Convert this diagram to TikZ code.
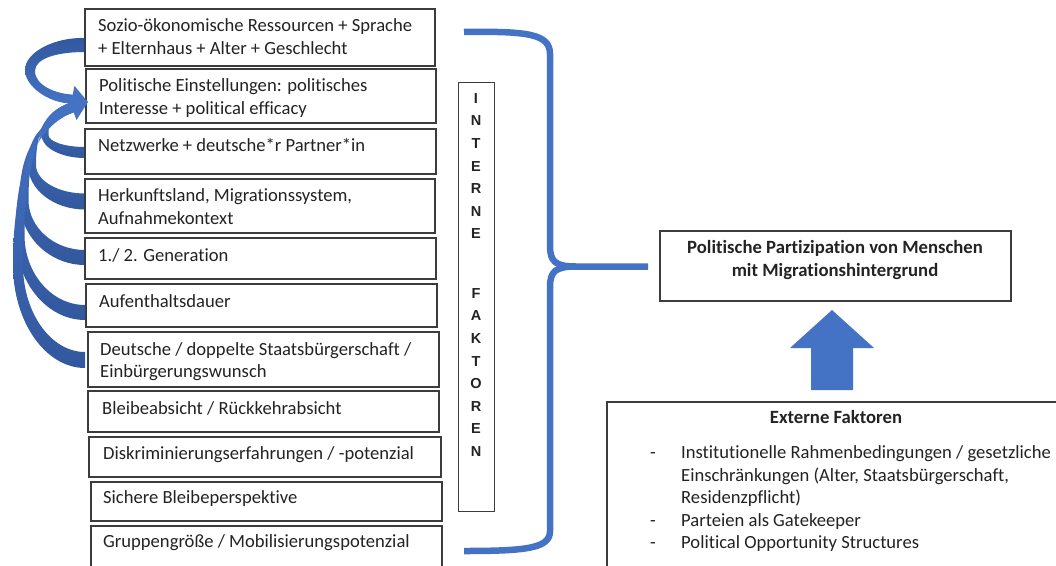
\documentclass[tikz,border=0pt]{standalone}
\usepackage{fontspec}
\setmainfont[Ligatures={NoCommon}]{Carlito}
\newfontfamily\letterfont{Liberation Sans}
\definecolor{blueL}{RGB}{68,114,196}
\definecolor{blueD}{RGB}{50,88,158}
\definecolor{frame}{RGB}{60,60,60}
\definecolor{ink}{RGB}{35,35,35}
\newcommand\factorbox[5]{\node[box, minimum width={#4-#2}, minimum height={#5-#3}] (#1) at (#2,#3) {};}
% #1 tail centre y, #2 tail thickness, #3 leftmost centre x, #4 leftmost y, #5 width at leftmost
\newcommand\lowband[5]{%
\shade[top color=blueL, bottom color=blueD]
 (85,{#1+#2/2}) .. controls ({85-0.55*(85-(#3-#5/2))},{#1+#2/2}) and ({#3-#5/2},{#4+0.55*(#1+#2/2-#4)}) .. ({#3-#5/2},#4)
 .. controls ({#3-#5/2},{#4-0.75*(#4-112.2)}) and ({73.7-0.939*0.45*(73.7-#3)},{112.2+0.344*0.45*(73.7-#3)}) .. (73.7,112.2)
 -- (70.3,102.8)
 .. controls ({70.3-0.939*0.45*(70.3-#3)},{102.8+0.344*0.45*(70.3-#3)}) and ({#3+#5/2},{#4-0.75*(#4-102.8)}) .. ({#3+#5/2},#4)
 .. controls ({#3+#5/2},{#4+0.55*(#1-#2/2-#4)}) and ({85-0.55*(85-(#3+#5/2))},{#1-#2/2}) .. (85,{#1-#2/2}) -- cycle;}
\begin{document}
\begin{tikzpicture}[x=1pt,y=-1pt,
  box/.style={draw=frame, line width=1.2pt, fill=white, anchor=north west, inner sep=0pt, outer sep=0pt},
  txt/.style={anchor=north west, inner sep=0pt, align=left, text=ink, font=\fontsize{18.6}{22.5}\selectfont},
  btxt/.style={anchor=north, inner sep=0pt, align=center, text=ink, font=\fontsize{18.7}{22.4}\selectfont\bfseries},
  brace/.style={draw=blueL, line width=6.5pt, line cap=butt, line join=round},
]
\clip (0,0) rectangle (1056,565);
\fill[white] (0,0) rectangle (1056,565);

% ---- curved arrows (feedback bands) ----
\shade[top color=blueD, bottom color=blueL]
  (85,38) .. controls (55,37) and (25,52) .. (25,70)
  .. controls (25,87) and (50,103.5) .. (71.1,103.4) -- (72.9,94.6)
  .. controls (57,94) and (35,86) .. (35,71)
  .. controls (35,58) and (58,52) .. (85,52) -- cycle;
\lowband{152.5}{11}{45}{135}{7}
\lowband{201.5}{16}{32}{165}{8}
\lowband{257.5}{15}{24}{200}{9}
\lowband{312.5}{15}{20}{235}{9}
\lowband{360}{16}{18}{265}{10}

% ---- factor boxes ----
\factorbox{f1}{85}{9}{435}{66}
\factorbox{f2}{86}{69}{436}{123}
\factorbox{f3}{85}{129}{436}{174}
\factorbox{f4}{85}{179}{435}{233}
\factorbox{f5}{85}{238}{436}{279}
\factorbox{f6}{86}{284}{437}{327}
\factorbox{f7}{88}{332}{439}{387}
\factorbox{f8}{88}{391}{439}{432}
\factorbox{f9}{89}{437}{441}{477}
\factorbox{f10}{91}{482}{442}{521}
\factorbox{f11}{91}{526}{442}{580}

% arrowheads
\fill[blueL] (88,102) -- (69,112) -- (74.5,86) -- cycle;
\fill[blueL] (88,102) -- (76.5,120) -- (67.5,95.5) -- cycle;

\node[txt] (t1) at (98,{31.5-15}) {\rule{0pt}{15pt}Sozio-ökonomische Ressourcen + Sprache\\+ Elternhaus + Alter + Geschlecht};
\node[txt] (t2) at (99,{91.7-15}) {\rule{0pt}{15pt}Politische Einstellungen: politisches\\Interesse + political efficacy};
\node[txt] (t3) at (98,{151.7-15}) {\rule{0pt}{15pt}Netzwerke + deutsche*r Partner*in};
\node[txt] (t4) at (98,{201.7-15}) {\rule{0pt}{15pt}Herkunftsland, Migrationssystem,\\Aufnahmekontext};
\node[txt] (t5) at (98,{261.7-15}) {\rule{0pt}{15pt}1./ 2. Generation};
\node[txt] (t6) at (99,{307-15}) {\rule{0pt}{15pt}Aufenthaltsdauer};
\node[txt] (t7) at (100,{355-15}) {\rule{0pt}{15pt}Deutsche / doppelte Staatsbürgerschaft /\\Einbürgerungswunsch};
\node[txt] (t8) at (102,{414-15}) {\rule{0pt}{15pt}Bleibeabsicht / Rückkehrabsicht};
\node[txt] (t9) at (103,{459.3-15}) {\rule{0pt}{15pt}Diskriminierungserfahrungen / -potenzial};
\node[txt] (t10) at (103,{503.3-15}) {\rule{0pt}{15pt}Sichere Bleibeperspektive};
\node[txt] (t11) at (103,{547.3-15}) {\rule{0pt}{15pt}Gruppengröße / Mobilisierungspotenzial};

% ---- INTERNE FAKTOREN ----
\node[box, line width=1pt, minimum width=36, minimum height=429] (intbox) at (458,82) {};
\node[anchor=north, inner sep=0pt, align=center, text=ink,
      font=\letterfont\bfseries\fontsize{14.5}{22.6}\selectfont] (intlbl) at (476,{103-12})
  {\rule{0pt}{12pt}I\\N\\T\\E\\R\\N\\E\\[36.8pt]F\\A\\K\\T\\O\\R\\E\\N};

% ---- brace ----
\draw[brace] (464,32) .. controls (528,31) and (550,34) .. (550,54) -- (550,246)
  .. controls (550,262) and (556,266.5) .. (576,266.5) -- (648,266.5);
\draw[brace] (576,266.5) .. controls (556,266.5) and (550,271) .. (550,287) -- (550,531)
  .. controls (550,548) and (528,551) .. (464,551);

% ---- goal ----
\node[box, minimum width=351, minimum height=70] (goal) at (660,231) {};
\node[btxt] (goalt) at (835,{253.5-15}) {\rule{0pt}{15pt}Politische Partizipation von Menschen\\mit Migrationshintergrund};

% ---- up arrow ----
\fill[blueL] (811,390) -- (811,348) -- (790,348) -- (832,310) -- (874,348) -- (853,348) -- (853,390) -- cycle;

% ---- external factors ----
\node[box, minimum width=500, minimum height=220] (ext) at (607,402) {};
\node[btxt] (extt) at (836,{423.3-15}) {\rule{0pt}{15pt}Externe Faktoren};
\node[txt, font=\fontsize{18.6}{22.6}\selectfont] (exti) at (681,{458.3-15})
  {\rule{0pt}{15pt}Institutionelle Rahmenbedingungen / gesetzliche\\Einschränkungen (Alter, Staatsbürgerschaft,\\Residenzpflicht)\\Parteien als Gatekeeper\\Political Opportunity Structures};
\node[txt, anchor=base] (d1) at (653,458.3) {-};
\node[txt, anchor=base] (d2) at (653,526.1) {-};
\node[txt, anchor=base] (d3) at (653,548.7) {-};
\end{tikzpicture}
\end{document}
